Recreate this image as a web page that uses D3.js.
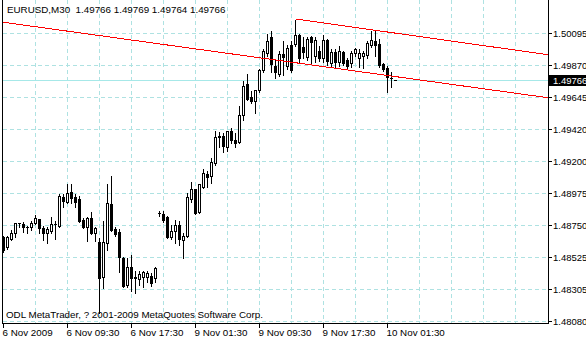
<!DOCTYPE html>
<html>
<head>
<meta charset="utf-8">
<script src="https://cdn.jsdelivr.net/npm/d3@7/dist/d3.min.js"></script>
<style>
  body { margin: 0; background: #fff; }
  text { font-family: "Liberation Sans", Arial, sans-serif; font-size: 9.8px; white-space: pre; }
  text.price { font-size: 9.5px; }
</style>
</head>
<body>
<script>
// EURUSD M30 bars (bar index = position from the left)
const symbol = "EURUSD,M30";
const opens = [1.48667,1.48597,1.48653,1.48695,1.48765,1.48758,1.48740,1.48737,1.48765,1.48793,
  1.48730,1.48695,1.48709,1.48758,1.48744,1.48947,1.48912,1.48982,1.48947,1.48933,
  1.48786,1.48737,1.48800,1.48695,1.48632,1.48387,1.48625,1.48898,1.48723,1.48702,
  1.48520,1.48331,1.48457,1.48387,1.48373,1.48387,1.48387,1.48394,1.48380,1.48835,
  1.48828,1.48807,1.48667,1.48709,1.48751,1.48646,1.48674,1.48933,1.49003,1.48842,
  1.49017,1.49108,1.49094,1.49185,1.49371,1.49374,1.49297,1.49409,1.49346,1.49332,
  1.49521,1.49738,1.49647,1.49619,1.49696,1.49836,1.49955,1.50067,1.49864,1.49808,
  1.49948,1.49864,1.50011,1.50018,1.50081,1.49997,1.49927,1.50067,1.49934,1.49969,
  1.49920,1.50046,1.49885,1.49962,1.49892,1.49962,1.49906,1.49885,1.49955,1.49920,
  1.49934,1.49941,1.50011,1.50039,1.50018,1.49878,1.49850,1.49780,1.49766];
const highs = [1.48681,1.48678,1.48723,1.48772,1.48768,1.48779,1.48751,1.48786,1.48828,1.48803,
  1.48751,1.48744,1.48814,1.48786,1.48975,1.48975,1.49045,1.49045,1.48975,1.48961,
  1.48807,1.48814,1.48849,1.48744,1.48667,1.48786,1.49045,1.49101,1.48744,1.48730,
  1.48534,1.48527,1.48548,1.48436,1.48436,1.48436,1.48436,1.48422,1.48464,1.48853,
  1.48856,1.48821,1.48758,1.48793,1.48786,1.48702,1.48982,1.49059,1.49010,1.49045,
  1.49150,1.49136,1.49227,1.49416,1.49409,1.49402,1.49416,1.49437,1.49402,1.49591,
  1.49766,1.49815,1.49696,1.49703,1.49850,1.49990,1.50095,1.50116,1.49920,1.49976,
  1.50046,1.50018,1.50046,1.50193,1.50095,1.50074,1.50074,1.50081,1.50074,1.50011,
  1.50088,1.50060,1.49990,1.49990,1.50011,1.49976,1.49927,1.49976,1.49997,1.49990,
  1.49976,1.50046,1.50116,1.50116,1.50060,1.49892,1.49871,1.49829,1.49769];
const lows = [1.48562,1.48583,1.48646,1.48667,1.48737,1.48702,1.48695,1.48716,1.48758,1.48695,
  1.48646,1.48625,1.48695,1.48653,1.48737,1.48877,1.48905,1.48905,1.48877,1.48772,
  1.48730,1.48639,1.48688,1.48639,1.48135,1.48310,1.48576,1.48709,1.48674,1.48422,
  1.48317,1.48317,1.48289,1.48275,1.48331,1.48317,1.48352,1.48324,1.48352,1.48811,
  1.48772,1.48660,1.48653,1.48625,1.48611,1.48520,1.48667,1.48912,1.48828,1.48835,
  1.49010,1.49017,1.49045,1.49171,1.49297,1.49262,1.49269,1.49325,1.49297,1.49325,
  1.49486,1.49626,1.49605,1.49535,1.49682,1.49822,1.49934,1.49822,1.49780,1.49794,
  1.49801,1.49843,1.49822,1.50004,1.49892,1.49920,1.49906,1.49885,1.49892,1.49899,
  1.49892,1.49871,1.49857,1.49857,1.49864,1.49871,1.49850,1.49857,1.49934,1.49857,
  1.49850,1.49920,1.49997,1.49934,1.49857,1.49829,1.49682,1.49717,1.49764];
const closes = [1.48576,1.48667,1.48695,1.48765,1.48762,1.48737,1.48738,1.48765,1.48800,1.48730,
  1.48695,1.48723,1.48758,1.48755,1.48954,1.48919,1.48975,1.48940,1.48912,1.48779,
  1.48737,1.48800,1.48695,1.48730,1.48380,1.48632,1.48905,1.48716,1.48688,1.48527,
  1.48324,1.48457,1.48380,1.48380,1.48408,1.48422,1.48415,1.48345,1.48450,1.48832,
  1.48786,1.48667,1.48709,1.48751,1.48653,1.48674,1.48947,1.49003,1.48835,1.49038,
  1.49115,1.49087,1.49192,1.49367,1.49367,1.49304,1.49409,1.49346,1.49325,1.49521,
  1.49724,1.49633,1.49619,1.49696,1.49836,1.49969,1.50039,1.49878,1.49822,1.49948,
  1.49927,1.49990,1.49836,1.50081,1.49920,1.49962,1.50053,1.50032,1.50046,1.49920,
  1.50046,1.49899,1.49962,1.49892,1.49969,1.49885,1.49864,1.49955,1.49983,1.49955,
  1.49955,1.50025,1.50046,1.50011,1.49871,1.49843,1.49787,1.49777,1.49766];

const timeTickBars = [0, 16, 32, 48, 64, 80, 96];
const timeTickLabels = ["6 Nov 2009", "6 Nov 09:30", "6 Nov 17:30", "9 Nov 01:30",
  "9 Nov 09:30", "9 Nov 17:30", "10 Nov 01:30"];
const priceTicks = [1.50095, 1.49870, 1.49645, 1.49420, 1.49200, 1.48975,
  1.48750, 1.48525, 1.48305, 1.48080];
const bidPrice = 1.49766;

// trend lines (bar, price) pairs, drawn as rays to the right edge
const lowerLineBars = [0, 98], lowerLinePrices = [1.50170, 1.49790];
const upperLineBars = [73, 98], upperLinePrices = [1.50193, 1.50094];

const width = 586, height = 340;
const plotLeft = 2.5, plotRight = 548.5, plotBottom = 323.5;
const lastBar = 136;

const x = d3.scaleLinear().domain([0, lastBar]).range([3.5, 547.5]);
const y = d3.scaleLinear().domain([1.48080, 1.50095]).range([321, 33]);
const py = v => Math.floor(y(v) + 0.4) + 0.5;   // crisp pixel row

const svg = d3.select("body").append("svg")
  .attr("width", width).attr("height", height)
  .style("display", "block");

svg.append("defs").append("clipPath").attr("id", "plot")
  .append("rect").attr("x", plotLeft).attr("y", 0)
  .attr("width", plotRight - plotLeft).attr("height", plotBottom);

const grid = svg.append("g")
  .attr("stroke", "#aee2e2").attr("stroke-dasharray", "4,3")
  .attr("shape-rendering", "crispEdges");

grid.selectAll(".h").data(priceTicks).join("line")
  .attr("x1", plotLeft).attr("x2", plotRight)
  .attr("y1", py).attr("y2", py);

grid.selectAll(".v").data(d3.range(8, lastBar, 8)).join("line")
  .attr("x1", d => x(d)).attr("x2", d => x(d))
  .attr("y1", 0).attr("y2", plotBottom);

// bid line
svg.append("line")
  .attr("x1", plotLeft).attr("x2", plotRight)
  .attr("y1", py(bidPrice)).attr("y2", py(bidPrice))
  .attr("stroke", "#a6e8e8").attr("shape-rendering", "crispEdges");

// candles
const bars = d3.range(opens.length).map(i => ({
  i, o: opens[i], h: highs[i], l: lows[i], c: closes[i]
}));
const candles = svg.append("g").attr("shape-rendering", "crispEdges");

candles.selectAll(".wick").data(bars).join("line")
  .attr("x1", d => x(d.i)).attr("x2", d => x(d.i))
  .attr("y1", d => py(d.h)).attr("y2", d => py(d.l) + 0.5)
  .attr("stroke", "#000");

bars.forEach(d => {
  const top = py(Math.max(d.o, d.c)), bot = py(Math.min(d.o, d.c));
  if (bot - top < 1) {
    candles.append("line")
      .attr("x1", x(d.i) - 1.5).attr("x2", x(d.i) + 1.5)
      .attr("y1", top).attr("y2", top).attr("stroke", "#000");
  } else {
    candles.append("rect")
      .attr("x", x(d.i) - 1).attr("y", top)
      .attr("width", 2).attr("height", bot - top)
      .attr("fill", d.c >= d.o ? "#fff" : "#000")
      .attr("stroke", "#000");
  }
});

// trend lines
function ray(bs, ps, from) {
  const slope = (ps[1] - ps[0]) / (bs[1] - bs[0]);
  const at = b => ps[0] + slope * (b - bs[0]);
  return [[from, at(from)], [lastBar + 1, at(lastBar + 1)]];
}
const lineGen = d3.line().x(d => x(d[0])).y(d => y(d[1]));
const trend = svg.append("g").attr("clip-path", "url(#plot)")
  .attr("fill", "none").attr("stroke", "#ff0000")
  .attr("shape-rendering", "crispEdges");
trend.append("path").attr("d", lineGen(ray(lowerLineBars, lowerLinePrices, -1)));
trend.append("path").attr("d", lineGen(ray(upperLineBars, upperLinePrices, upperLineBars[0])));

// frame
const frame = svg.append("g").attr("stroke", "#000").attr("shape-rendering", "crispEdges");
frame.append("line").attr("x1", plotLeft).attr("x2", plotLeft).attr("y1", 0).attr("y2", plotBottom);
frame.append("line").attr("x1", plotRight).attr("x2", plotRight).attr("y1", 0).attr("y2", plotBottom);
frame.append("line").attr("x1", plotLeft).attr("x2", plotRight).attr("y1", plotBottom).attr("y2", plotBottom);

// price axis
const pAxis = svg.append("g");
pAxis.selectAll("line").data(priceTicks).join("line")
  .attr("x1", plotRight).attr("x2", plotRight + 3.5)
  .attr("y1", py).attr("y2", py)
  .attr("stroke", "#000").attr("shape-rendering", "crispEdges");
pAxis.selectAll("text").data(priceTicks).join("text")
  .attr("class", "price")
  .attr("x", 553).attr("y", d => py(d) + 3.5)
  .text(d => d.toFixed(5));

// bid label
svg.append("rect").attr("x", 549).attr("y", py(bidPrice) - 5.5)
  .attr("width", 37).attr("height", 11).attr("fill", "#000");
svg.append("text").attr("class", "price").attr("x", 553).attr("y", py(bidPrice) + 3.5)
  .attr("fill", "#fff").text(bidPrice.toFixed(5));

// time axis
const tAxis = svg.append("g");
tAxis.selectAll("line").data(timeTickBars).join("line")
  .attr("x1", d => x(d) - 0.5).attr("x2", d => x(d) - 0.5)
  .attr("y1", plotBottom).attr("y2", plotBottom + 4)
  .attr("stroke", "#000").attr("shape-rendering", "crispEdges");
tAxis.selectAll("text").data(timeTickBars).join("text")
  .attr("x", d => x(d) - 1).attr("y", 336)
  .text((d, k) => timeTickLabels[k]);

// header and footer text
const last = opens.length - 1;
svg.append("text").attr("x", 7).attr("y", 13)
  .text(symbol + "  " + [opens[last], highs[last], lows[last], closes[last]]
    .map(v => v.toFixed(5)).join(" "));
svg.append("text").attr("x", 6).attr("y", 318)
  .text("ODL MetaTrader, ? 2001-2009 MetaQuotes Software Corp.");
</script>
</body>
</html>
